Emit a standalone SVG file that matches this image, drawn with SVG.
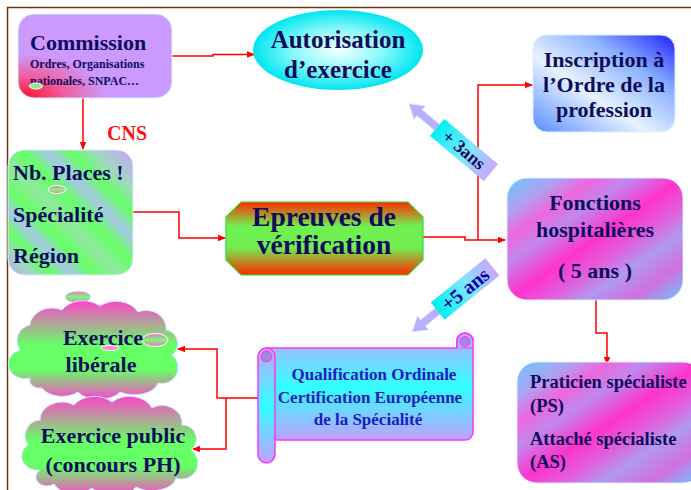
<svg xmlns="http://www.w3.org/2000/svg" width="691" height="490" viewBox="0 0 691 490">
<defs>
<style>
.t{font-family:"Liberation Serif","Times New Roman",serif;font-weight:bold;fill:#0d0d5c}
.sc{fill:#1c1cc0}
.red{fill:#ff1010}
.c{fill:none;stroke:#ff0000;stroke-width:1.5}
</style>
<marker id="ah" markerWidth="8" markerHeight="8" refX="7" refY="4" orient="auto" markerUnits="userSpaceOnUse">
<path d="M0,0.8 L8,4 L0,7.2 Z" fill="#ff0000"/>
</marker>
<radialGradient id="gCom" cx="0.05" cy="1" r="0.75">
<stop offset="0" stop-color="#ff1030"/>
<stop offset="0.35" stop-color="#f060a0"/>
<stop offset="0.7" stop-color="#cc99ff"/>
<stop offset="1" stop-color="#cc99ff"/>
</radialGradient>
<radialGradient id="gAut" cx="0.5" cy="0.5" r="0.5">
<stop offset="0" stop-color="#f4ffff"/>
<stop offset="0.5" stop-color="#90f8fa"/>
<stop offset="1" stop-color="#00e6f0"/>
</radialGradient>
<linearGradient id="gIns" x1="0" y1="1" x2="1" y2="0">
<stop offset="0" stop-color="#5a8cff"/>
<stop offset="0.4" stop-color="#e6f2ff"/>
<stop offset="0.7" stop-color="#8ab0ff"/>
<stop offset="1" stop-color="#2020ff"/>
</linearGradient>
<linearGradient id="gNb" x1="0" y1="1" x2="1" y2="0">
<stop offset="0" stop-color="#c8a0ff"/>
<stop offset="0.1" stop-color="#a0d8c0"/>
<stop offset="0.18" stop-color="#66ff66"/>
<stop offset="0.26" stop-color="#a8c8e8"/>
<stop offset="0.34" stop-color="#66ff66"/>
<stop offset="0.45" stop-color="#90e8a0"/>
<stop offset="0.55" stop-color="#66ff66"/>
<stop offset="0.65" stop-color="#a8c8e8"/>
<stop offset="0.74" stop-color="#66ff66"/>
<stop offset="0.84" stop-color="#a0d8c0"/>
<stop offset="1" stop-color="#c8a0ff"/>
</linearGradient>
<linearGradient id="gEp" x1="0" y1="0" x2="0" y2="1">
<stop offset="0" stop-color="#ff2a00"/>
<stop offset="0.33" stop-color="#70f050"/>
<stop offset="0.62" stop-color="#70f050"/>
<stop offset="1" stop-color="#ff2a00"/>
</linearGradient>
<linearGradient id="gFon" x1="0" y1="0" x2="1" y2="1">
<stop offset="0" stop-color="#66c8ff"/>
<stop offset="0.15" stop-color="#b0a0f0"/>
<stop offset="0.25" stop-color="#ee66dd"/>
<stop offset="0.35" stop-color="#c088ee"/>
<stop offset="0.5" stop-color="#ff33cc"/>
<stop offset="0.62" stop-color="#e060dd"/>
<stop offset="0.72" stop-color="#b098f0"/>
<stop offset="0.85" stop-color="#d070e0"/>
<stop offset="1" stop-color="#66c8ff"/>
</linearGradient>
<linearGradient id="gCloud" x1="0" y1="0" x2="0" y2="1">
<stop offset="0" stop-color="#ff44cc"/>
<stop offset="0.45" stop-color="#66ff66"/>
<stop offset="0.7" stop-color="#66ff66"/>
<stop offset="1" stop-color="#ff44cc"/>
</linearGradient>
<linearGradient id="gScroll" x1="0" y1="0" x2="0" y2="1">
<stop offset="0" stop-color="#c0a8ff"/>
<stop offset="0.5" stop-color="#30ffff"/>
<stop offset="1" stop-color="#c0a0ff"/>
</linearGradient>
<linearGradient id="gArr" x1="0" y1="0" x2="1" y2="0">
<stop offset="0" stop-color="#00f0f0"/>
<stop offset="0.55" stop-color="#80e8ff"/>
<stop offset="1" stop-color="#c8a8ff"/>
</linearGradient>
<linearGradient id="gEll" x1="0" y1="0" x2="0" y2="1">
<stop offset="0" stop-color="#ff66cc"/>
<stop offset="0.5" stop-color="#77ff77"/>
<stop offset="1" stop-color="#ff66cc"/>
</linearGradient>
</defs>

<rect width="691" height="490" fill="#ffffff"/>
<path d="M7.5,490 V7.5 H691" fill="none" stroke="#6b3a10" stroke-width="1.5"/>

<g id="connectors">
<path class="c" d="M172,56 H213 V54.5 H254" marker-end="url(#ah)"/>
<path class="c" d="M83,98 V149" marker-end="url(#ah)"/>
<path class="c" d="M133,212 H179 V238 H225" marker-end="url(#ah)"/>
<path class="c" d="M423,237 H465 V240 H505" marker-end="url(#ah)"/>
<path class="c" d="M478,240 V85 H532" marker-end="url(#ah)"/>
<path class="c" d="M596,300 V333 H607 V364" marker-end="url(#ah)"/>
<path class="c" d="M258,398 H217 V349 H178" marker-end="url(#ah)"/>
<path class="c" d="M226,398 V449 H193" marker-end="url(#ah)"/>
</g>

<g id="cns-label">
<text class="t red" x="107" y="140" font-size="20">CNS</text>
</g>

<g id="commission">
<rect x="18" y="14" width="154" height="84" rx="16" fill="url(#gCom)" stroke="#ddeeff" stroke-width="1"/>
<text class="t" x="30" y="50" font-size="22">Commission</text>
<text class="t" x="30" y="68" font-size="12">Ordres, Organisations</text>
<text class="t" x="30" y="85" font-size="12">nationales, SNPAC…</text>
<ellipse cx="36" cy="86" rx="6.5" ry="3" fill="#88ee88" stroke="#ffffff" stroke-width="1"/>
</g>

<g id="autorisation">
<ellipse cx="338" cy="50" rx="85" ry="40" fill="url(#gAut)"/>
<text class="t" x="338" y="48" font-size="25" text-anchor="middle">Autorisation</text>
<text class="t" x="338" y="78" font-size="25" text-anchor="middle">d’exercice</text>
</g>

<g id="inscription">
<rect x="533" y="35" width="142" height="97" rx="14" fill="url(#gIns)" stroke="#ddeeff" stroke-width="1"/>
<text class="t" x="604" y="67" font-size="22" text-anchor="middle">Inscription à</text>
<text class="t" x="604" y="92" font-size="22" text-anchor="middle">l’Ordre de la</text>
<text class="t" x="604" y="117" font-size="22" text-anchor="middle">profession</text>
</g>

<g id="nb-places">
<rect x="8" y="150" width="125" height="125" rx="16" fill="url(#gNb)" stroke="#ddeeff" stroke-width="1"/>
<text class="t" x="13" y="180" font-size="22">Nb. Places !</text>
<text class="t" x="13" y="222" font-size="22">Spécialité</text>
<text class="t" x="13" y="263" font-size="22">Région</text>
<ellipse cx="57" cy="189.5" rx="9" ry="4" fill="url(#gEll)" stroke="#ffffff" stroke-width="1"/>
</g>

<g id="epreuves">
<polygon points="241,202 408,202 423,217 423,260 408,275 241,275 226,260 226,217" fill="url(#gEp)" stroke="#33dd33" stroke-width="1.2"/>
<text class="t" x="324" y="226" font-size="27.5" text-anchor="middle">Epreuves de</text>
<text class="t" x="324" y="254" font-size="27.5" text-anchor="middle">vérification</text>
</g>

<g id="plus3ans" transform="translate(464,150) rotate(40)">
<path d="M-35,-10 H35 V10 H-35 V4 H-58 V9 L-72,0 L-58,-9 V-4 H-35 Z" fill="#b8b0ff" stroke="#e0e8ff" stroke-width="0.8"/>
<rect x="-35" y="-11" width="70" height="22" fill="url(#gArr)"/>
<text class="t" x="0" y="6" font-size="18" text-anchor="middle">+ 3ans</text>
</g>

<g id="fonctions">
<rect x="507" y="178" width="176" height="122" rx="20" fill="url(#gFon)" stroke="#ddeeff" stroke-width="1"/>
<text class="t" x="595" y="210" font-size="22" text-anchor="middle">Fonctions</text>
<text class="t" x="595" y="237" font-size="22" text-anchor="middle">hospitalières</text>
<text class="t" x="595" y="278" font-size="22" text-anchor="middle">( 5 ans )</text>
</g>

<g id="plus5ans" transform="translate(465,289) rotate(-39)">
<path d="M-35,-11 H35 V11 H-35 V4 H-54 V9 L-68,0 L-54,-9 V-4 H-35 Z" fill="#b8b0ff" stroke="#e0e8ff" stroke-width="0.8"/>
<rect x="-35" y="-11" width="70" height="22" fill="url(#gArr)"/>
<text class="t" x="0" y="7" font-size="20" text-anchor="middle" style="fill:#0000aa">+5 ans</text>
</g>

<g id="praticien">
<rect x="517" y="362" width="186" height="121" rx="20" fill="url(#gFon)" stroke="#ddeeff" stroke-width="1"/>
<text class="t" x="530" y="388" font-size="18.5">Praticien spécialiste</text>
<text class="t" x="530" y="412" font-size="18.5">(PS)</text>
<text class="t" x="530" y="445" font-size="18.5">Attaché spécialiste</text>
<text class="t" x="530" y="468" font-size="18.5">(AS)</text>
</g>

<g id="qualification">
<path d="M266,348 H457 V341 A8,8 0 0 1 473,341 V432 A8,8 0 0 1 465,440 H275 Z" fill="url(#gScroll)" stroke="#ff33ff" stroke-width="1.5"/>
<path d="M457,348 V341 A8,8 0 0 1 473,341" fill="none" stroke="#ff33ff" stroke-width="1.5"/>
<circle cx="465" cy="341.5" r="5" fill="#a088e0" stroke="#ff33ff" stroke-width="1"/>
<line x1="460" y1="348" x2="473" y2="348" stroke="#ff33ff" stroke-width="1"/>
<rect x="258" y="348" width="17" height="115" rx="8.5" fill="url(#gScroll)" stroke="#ff33ff" stroke-width="1.5"/>
<circle cx="266.5" cy="356.5" r="5.5" fill="#a088e0" stroke="#ff33ff" stroke-width="1"/>
<text class="t sc" x="374" y="380" font-size="17" text-anchor="middle">Qualification Ordinale</text>
<text class="t sc" x="370" y="403" font-size="17" text-anchor="middle">Certification Européenne</text>
<text class="t sc" x="368" y="425" font-size="17" text-anchor="middle">de la Spécialité</text>
</g>

<g id="exercice-liberale">
<ellipse cx="78" cy="297" rx="13" ry="6" fill="url(#gEll)" stroke="#ddeeff" stroke-width="1"/>
<path d="M30,378 A16,14 0 0 1 20,350 A16,16 0 0 1 30,325 A22,18 0 0 1 62,310 A24,18 0 0 1 100,306 A24,18 0 0 1 138,312 A20,18 0 0 1 166,330 A14,14 0 0 1 172,355 A16,16 0 0 1 158,383 A24,14 0 0 1 120,392 A24,14 0 0 1 78,392 A22,14 0 0 1 42,388 A10,8 0 0 1 30,378 Z" fill="url(#gCloud)" stroke="#cce8ff" stroke-width="1"/>
<ellipse cx="155" cy="340" rx="13" ry="6.5" fill="url(#gEll)" stroke="#ffffff" stroke-width="1"/>
<ellipse cx="110" cy="348" rx="9" ry="2.5" fill="#ff88dd" stroke="#ffffff" stroke-width="0.8"/>
<text class="t" x="103" y="345" font-size="22" text-anchor="middle">Exercice</text>
<text class="t" x="101" y="372" font-size="22" text-anchor="middle">libérale</text>
</g>

<g id="exercice-public">
<path d="M40,470 A16,14 0 0 1 28,445 A16,16 0 0 1 40,420 A22,18 0 0 1 74,405 A24,18 0 0 1 112,402 A24,18 0 0 1 152,408 A20,18 0 0 1 182,425 A14,14 0 0 1 191,450 A16,16 0 0 1 176,478 A24,14 0 0 1 136,487 A24,14 0 0 1 92,488 A22,14 0 0 1 54,484 A10,8 0 0 1 40,470 Z" fill="url(#gCloud)" stroke="#cce8ff" stroke-width="1"/>
<text class="t" x="113" y="443" font-size="22" text-anchor="middle">Exercice public</text>
<text class="t" x="113" y="472" font-size="22" text-anchor="middle">(concours PH)</text>
</g>
</svg>
